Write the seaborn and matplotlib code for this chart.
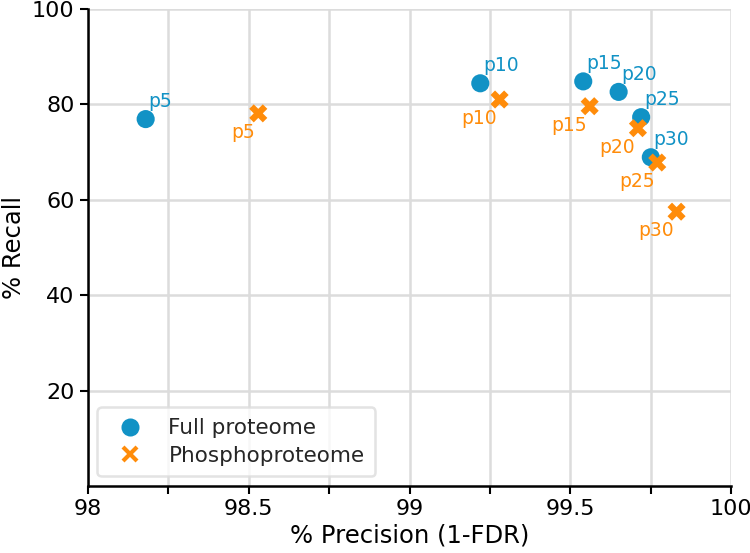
import numpy as np
import pandas as pd
import seaborn as sns
import matplotlib
matplotlib.use('Agg')
import matplotlib.pyplot as plt
from matplotlib.lines import Line2D
from matplotlib.ticker import MultipleLocator, FixedLocator

# values
labels = ['p5', 'p10', 'p15', 'p20', 'p25', 'p30']
full_precision = [98.18, 99.22, 99.54, 99.65, 99.72, 99.75]
full_recall = [76.9, 84.4, 84.8, 82.6, 77.3, 68.9]
phospho_precision = [98.53, 99.28, 99.56, 99.71, 99.77, 99.83]
phospho_recall = [78.1, 81.0, 79.6, 75.0, 67.8, 57.5]

x_ticks = [98, 98.5, 99, 99.5, 100]
x_tick_labels = ['98', '98.5', '99', '99.5', '100']
y_ticks = [20, 40, 60, 80, 100]

blue = '#1192c5'
orange = '#ff8c0a'

df = pd.DataFrame({
    'precision': full_precision + phospho_precision,
    'recall': full_recall + phospho_recall,
    'label': labels + labels,
    'set': ['Full proteome'] * len(labels) + ['Phosphoproteome'] * len(labels),
})

sns.set_theme(style='whitegrid')
plt.rcParams['font.family'] = ['DejaVu Sans']

fig, ax = plt.subplots(figsize=(7.5, 5.53), dpi=100)
fig.subplots_adjust(left=0.117, right=0.975, bottom=0.121, top=0.984)

sns.scatterplot(data=df, x='precision', y='recall', hue='set', style='set',
                palette={'Full proteome': blue, 'Phosphoproteome': orange},
                markers={'Full proteome': 'o', 'Phosphoproteome': 'X'},
                s=170, linewidth=0, ax=ax, legend=False, zorder=3)

# point labels
for lab, x, y in zip(labels, full_precision, full_recall):
    ax.annotate(lab, (x, y), xytext=(2, 6), textcoords='offset points',
                ha='left', va='bottom', color=blue, fontsize=13.5)
for lab, x, y in zip(labels, phospho_precision, phospho_recall):
    ax.annotate(lab, (x, y), xytext=(-2, -7), textcoords='offset points',
                ha='right', va='top', color=orange, fontsize=13.5)

ax.set_xlim(98, 100)
ax.set_ylim(0, 100)
ax.xaxis.set_major_locator(FixedLocator(x_ticks))
ax.set_xticklabels(x_tick_labels)
ax.xaxis.set_minor_locator(MultipleLocator(0.25))
ax.set_yticks(y_ticks)

ax.grid(True, which='both', axis='x', color='#dcdcdc', linewidth=1.8)
ax.grid(True, which='major', axis='y', color='#dcdcdc', linewidth=1.8)
ax.set_axisbelow(True)

sns.despine(ax=ax)
for side in ['left', 'bottom']:
    ax.spines[side].set_color('black')
    ax.spines[side].set_linewidth(1.8)

ax.tick_params(axis='both', which='both', direction='out', length=6, width=1.5,
               color='black', labelsize=16, labelcolor='black',
               bottom=True, left=True)
ax.tick_params(axis='x', which='minor', length=6)

ax.set_xlabel('% Precision (1-FDR)', fontsize=17.5, color='black', labelpad=3)
ax.set_ylabel('% Recall', fontsize=17.5, color='black')

handles = [
    Line2D([], [], linestyle='none', marker='o', markersize=13,
           markerfacecolor=blue, markeredgewidth=0, label='Full proteome'),
    Line2D([], [], linestyle='none', marker='x', markersize=10,
           markeredgecolor=orange, markeredgewidth=3, label='Phosphoproteome'),
]
leg = ax.legend(handles=handles, loc='lower left', borderaxespad=0.45,
                fontsize=15.5, frameon=True, fancybox=True, borderpad=0.5,
                handletextpad=0.8, labelspacing=0.35)
leg.get_frame().set_edgecolor('#dcdcdc')
leg.get_frame().set_linewidth(1.8)

fig.savefig('out.png', dpi=100)
